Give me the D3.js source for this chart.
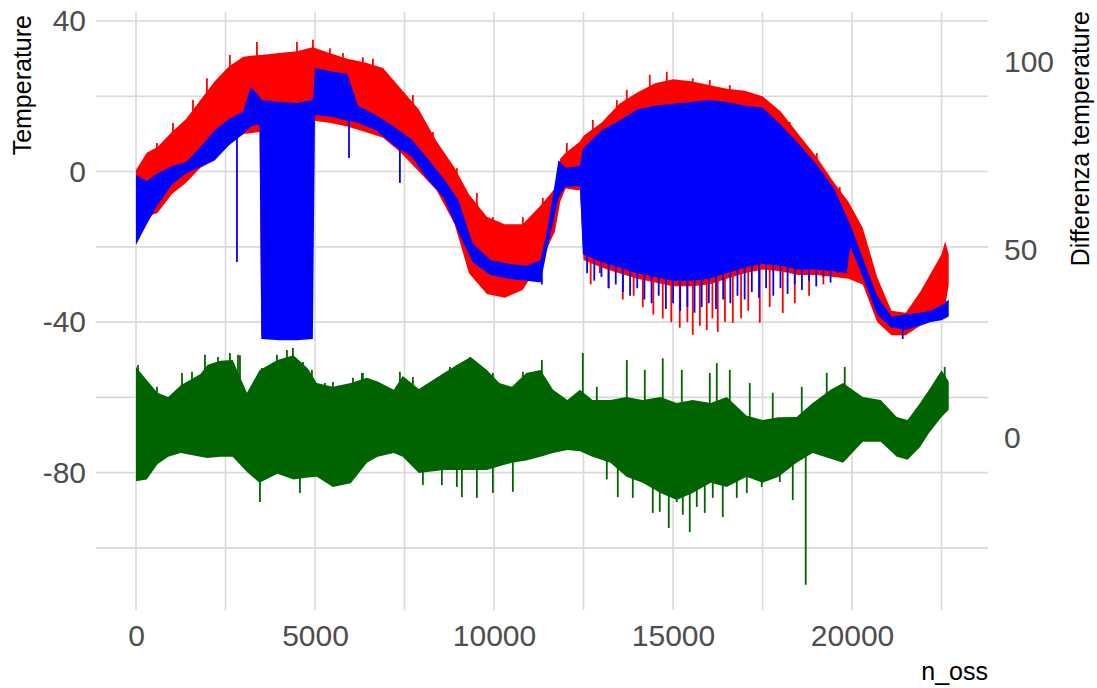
<!DOCTYPE html>
<html>
<head>
<meta charset="utf-8">
<script src="https://cdn.jsdelivr.net/npm/d3@7"></script>
<style>
  body { margin: 0; background: #fff; }
  text { font-family: "Liberation Sans", Arial, sans-serif; }
</style>
</head>
<body>
<div id="container"></div>
<script>
/* DATA (envelope of each dense series + visible spikes) */
// red series (temperature), band low/high
const redN  = [0, 300, 600, 1000, 1400, 1800, 2200, 2600, 3000, 3450, 3500, 4000, 4500, 4900, 4960, 5400, 5900, 6400, 6900, 7400, 7900, 8400, 8900, 9300, 9800, 10300, 10800, 11300, 11700, 11850, 12000, 12400, 12500, 13000, 13500, 14000, 14500, 15000, 15500, 16000, 16500, 17000, 17500, 18000, 18500, 19000, 19500, 19900, 20300, 20700, 21100, 21500, 21900, 22200, 22500, 22600, 22700];
const redHi = [0.4, 5, 6.5, 10.5, 14, 19, 24, 28, 30.5, 31, 31, 31.5, 32, 33, 33, 31.5, 30, 29, 27.5, 22, 16.5, 8, 1, -6, -12, -14, -14, -9, -4.5, 3.5, 5, 8, 9.5, 13, 18, 21, 23.5, 24.5, 24, 23, 22, 21.5, 20, 16, 10, 4, -3, -8, -15, -28, -37, -37.5, -32, -27, -22, -18.5, -22];
const redLo = [-14, -12, -11, -6, -3, 1, 3, 8, 10, 10.5, -43.5, -43.5, -43.5, -40, 13.5, 13, 12, 10.5, 9, 5, 0, -5, -14, -27, -32.5, -33.5, -31.5, -24, -16, -8, -4.5, -5, -23.5, -25.5, -27, -28.5, -29.5, -30.5, -30.5, -30, -28.5, -27, -26, -26.5, -27.5, -27.5, -28, -28.5, -30, -40, -43.5, -43.5, -41, -39, -37, -36, -30];
const redSpikeN = [586, 1033, 1591, 1982, 2624, 3378, 4495, 4942, 5416, 5779, 6338, 6617, 7175, 7734, 8292, 8962, 9521, 9967, 10805, 11364, 12034, 12759, 13429, 13708, 14350, 14825, 15551, 16026, 16585, 17339, 18260, 19014, 19656,
                   12700, 12955, 13200, 13597, 13900, 14155, 14450, 14713, 14950, 15188, 15400, 15551, 15750, 15942, 16100, 16250, 16450, 16669, 16900, 17100, 17423, 17700, 18065, 18400, 18800, 19200];
const redSpikeV = [7.6, 12.9, 19, 24.8, 31, 34.4, 34.4, 35, 32.8, 31.5, 30.4, 30, 24.3, 20.3, 10.5, 0.9, -5.7, -12.1, -12.1, -7, 7.6, 13.7, 19, 21.7, 25.7, 26.5, 24.8, 24.3, 23, 19.8, 13.2, 4.9, -4.1,
                   -30, -27, -31, -34, -33, -36, -38, -39, -40, -41.5, -40, -43.4, -41, -42.1, -39, -42.6, -40, -40.2, -39, -37, -40.2, -36, -37.6, -35, -33, -30];

// blue series (temperature)
const blueN  = [0, 300, 600, 1000, 1400, 1800, 2200, 2600, 3000, 3200, 3450, 3500, 4000, 4500, 4940, 5000, 5500, 5900, 6200, 6700, 7200, 7700, 8100, 8600, 9000, 9400, 9900, 10400, 10900, 11300, 11500, 11800, 12000, 12400, 12480, 13000, 13500, 14000, 14500, 15000, 15500, 16000, 16500, 17000, 17500, 18000, 18500, 19000, 19500, 19850, 19950, 20300, 20700, 21100, 21500, 21900, 22200, 22500, 22700];
const blueHi = [-0.9, -2.5, -0.5, 1.5, 2.5, 6.5, 11, 14, 16, 22.5, 20, 19, 18.5, 18.2, 19, 27.5, 26.5, 26, 17.5, 15, 12, 8.5, 4, -2, -7.5, -19, -23.5, -24.5, -25, -23.5, -15, 3, 1, 1.5, 6, 11, 13.5, 16.5, 17.5, 18, 18.5, 19, 18.5, 17.5, 17, 12.5, 7.5, 2, -4.5, -12, -14, -23, -33, -38.5, -38, -37.5, -37, -35.5, -34];
const blueLo = [-19.5, -14, -9, -3.5, -0.5, 1.2, 3, 7, 10, 12, 12.5, -44.5, -44.8, -44.8, -44.5, 15, 14.5, 13.5, 13, 11, 7, 4, -1.5, -7, -16, -24, -27.5, -28.5, -29, -29.5, -20, -7, -4, -4, -22, -24, -25.5, -27, -28, -29, -29, -28.5, -27, -25.5, -24.5, -25, -26, -26, -26.5, -27, -20, -28, -38, -41.5, -42, -41, -40, -39.5, -38.5];
const blueSpikeN = [2820, 5950, 7371, 11336, 21415,
                    12600, 12800, 13000, 13200, 13400, 13600, 13800, 14000, 14200, 14400, 14600, 14800, 15000, 15200, 15400, 15600, 15800, 16000,
                    16200, 16400, 16600, 16800, 17000, 17200, 17400, 17600, 17800, 18000, 18200, 18400, 18600, 18800, 19000, 19200, 19400, 19600];
const blueSpikeV = [-24, 3.6, -3, -30, -44.5,
                    -27, -29, -28, -31, -30, -32, -33, -31, -34, -35, -33, -36.5, -35, -37, -36, -37.5, -36, -35,
                    -36.5, -34, -35, -33, -34, -32, -33.5, -31, -33, -31, -32.5, -30, -31.5, -29, -30.5, -28, -29.5, -27];

// green series (Differenza temperature, right axis)
const greenN  = [0, 300, 600, 900, 1250, 1800, 2000, 2350, 2700, 3100, 3450, 3950, 4400, 4800, 5050, 5500, 6000, 6450, 6750, 7200, 7450, 7900, 8600, 9050, 9350, 9800, 10150, 10500, 10900, 11300, 11650, 12050, 12400, 12750, 13250, 13700, 14150, 14650, 15100, 15550, 16050, 16500, 17050, 17500, 17950, 18450, 18900, 19400, 19750, 20300, 20800, 21250, 21550, 21900, 22150, 22500, 22700];
const greenHi = [18.9, 15.4, 12, 10.9, 14, 17, 19.5, 20.5, 20.7, 12, 18, 20.7, 22, 18.5, 14.6, 13.6, 14.6, 16, 15, 12.8, 16.5, 13, 17.3, 19.9, 21.5, 18.1, 14.6, 13.6, 17.3, 18.1, 12.8, 10.1, 12.8, 10.1, 10.1, 10.9, 10.1, 10.9, 9.3, 10.1, 9.3, 10.9, 6, 4.8, 5.5, 5.6, 9.3, 12.8, 14.6, 10.9, 10.1, 5.6, 4.8, 9.3, 12.8, 18, 15];
const greenLo = [-11.5, -11, -7, -5, -4, -5, -5.3, -5, -5, -9, -11.9, -9.5, -11, -10.5, -10.3, -13, -12, -6.6, -5, -4, -5, -9.3, -8.5, -8.5, -8.5, -8.5, -7.5, -6.6, -6, -5, -4, -3.2, -3.5, -5, -6.6, -10.3, -11.9, -14.6, -16.5, -14.6, -11.9, -13, -10.3, -11.9, -10.3, -6.6, -4, -5.5, -6.6, -1, -1, -5, -5.8, -2.4, 1.3, 5.6, 7.5];
const greenSpikeN = [2624, 2904, 4383, 9325, 11336, 12480, 13708, 14713, 16222, 16585, 17143, 17785, 18595, 19293, 19796, 22587,
                     56, 586, 1284, 1564, 1926, 2289, 2848, 3518, 3937, 4216, 4663, 4914, 5277, 5500, 6059, 6310, 6338, 7371, 7734, 8767, 8962, 9465, 9967, 10805, 11085, 12871, 14211, 15244, 16026,
                     3462, 4579, 8544, 9102, 9521, 9967, 10526, 13457, 13876, 14434, 14881, 15272, 15467, 15886, 16389, 16780, 18344, 18706,
                     8013, 8962, 13150, 14629, 15104, 15663, 16110, 17060, 17478, 17981];
const greenSpikeV = [22.6, 22, 23.9, 21.5, 20.7, 22.6, 20.7, 21.2, 19.9, 18.1, 14.6, 12, 13.6, 17.3, 18.9, 18.9,
                     19.4, 13.6, 17.3, 17.6, 22.1, 21.5, 22.1, 18.6, 22.1, 23.4, 20.2, 18.1, 14.6, 14.9, 16, 17.3, 17.3, 17.6, 16.2, 18.9, 19.4, 20.2, 17.3, 17.6, 17.3, 13.6, 18.1, 18.1, 17.3,
                     -17, -14.6, -12.5, -15.7, -15.9, -14.6, -14.3, -15.7, -15.9, -19.9, -23.9, -20.4, -25, -19.9, -21, -15.9, -16.5, -39,
                     -12.5, -13, -11, -19.6, -17, -18.3, -15.9, -14.6, -13, -11.7];

// ticks
const xMajor = [0, 5000, 10000, 15000, 20000];
const xMinor = [2500, 7500, 12500, 17500, 22500];
const yMajor = [-80, -40, 0, 40];
const yMinor = [-100, -60, -20, 20];
const rightTicks = [0, 50, 100];
const diffOffset = 70.8; // Differenza = Temperature + offset

/* LAYOUT */
const width = 1097, height = 688;
const panel = { left: 96, right: 988, top: 12, bottom: 610 };

const svg = d3.select("#container").append("svg")
  .attr("width", width).attr("height", height)
  .style("background", "#fff");

const x = d3.scaleLinear().domain([-1117, 23797]).range([panel.left, panel.right]);
const y = d3.scaleLinear().domain([-116.5, 42.4]).range([panel.bottom, panel.top]);

// gridlines (major + minor look the same here)
const grid = svg.append("g").attr("stroke", "#d9d9d9").attr("stroke-width", 1.6);
grid.selectAll(".hy").data(yMajor.concat(yMinor)).join("line")
  .attr("x1", panel.left).attr("x2", panel.right)
  .attr("y1", d => y(d)).attr("y2", d => y(d));
grid.selectAll(".vx").data(xMajor.concat(xMinor)).join("line")
  .attr("y1", panel.top).attr("y2", panel.bottom)
  .attr("x1", d => x(d)).attr("x2", d => x(d));

// helpers
function band(ns, lo, hi, shift) {
  return ns.map((n, i) => ({ n: n, lo: lo[i] - shift, hi: hi[i] - shift }));
}
function midAt(rows, n) {
  const i = Math.min(Math.max(d3.bisector(d => d.n).left(rows, n), 1), rows.length - 1);
  const a = rows[i - 1], b = rows[i];
  const t = (n - a.n) / (b.n - a.n);
  return ((a.lo + a.hi) / 2) * (1 - t) + ((b.lo + b.hi) / 2) * t;
}
const area = d3.area().x(d => x(d.n)).y0(d => y(d.lo)).y1(d => y(d.hi));

function drawSeries(rows, spikeN, spikeV, shift, color) {
  svg.append("path").datum(rows).attr("d", area).attr("fill", color);
  svg.append("g").selectAll("line")
    .data(spikeN.map((n, i) => ({ n: n, v: spikeV[i] - shift })))
    .join("line")
    .attr("x1", d => x(d.n)).attr("x2", d => x(d.n))
    .attr("y1", d => y(midAt(rows, d.n))).attr("y2", d => y(d.v))
    .attr("stroke", color).attr("stroke-width", 1.8);
}

drawSeries(band(redN, redLo, redHi, 0), redSpikeN, redSpikeV, 0, "#ff0000");
drawSeries(band(blueN, blueLo, blueHi, 0), blueSpikeN, blueSpikeV, 0, "#0000ff");
drawSeries(band(greenN, greenLo, greenHi, diffOffset), greenSpikeN, greenSpikeV, diffOffset, "#006400");

/* AXES */
function styleAxis(g) {
  g.select(".domain").remove();
  g.selectAll(".tick line").remove();
  g.selectAll("text")
    .attr("fill", "#4d4d4d")
    .style("font-size", "30px")
    .style("font-family", "'Liberation Sans', Arial, sans-serif");
}
const plain = d => String(d); // keep the ascii hyphen for negatives

svg.append("g")
  .attr("transform", `translate(${panel.left},0)`)
  .call(d3.axisLeft(y).tickValues(yMajor).tickSize(0).tickPadding(10).tickFormat(plain))
  .call(styleAxis);

svg.append("g")
  .attr("transform", `translate(0,${panel.bottom})`)
  .call(d3.axisBottom(x).tickValues(xMajor).tickSize(0).tickPadding(15).tickFormat(plain))
  .call(styleAxis);

const yRight = d3.scaleLinear().domain(y.domain().map(v => v + diffOffset)).range(y.range());
svg.append("g")
  .attr("transform", `translate(${panel.right},0)`)
  .call(d3.axisRight(yRight).tickValues(rightTicks).tickSize(0).tickPadding(16).tickFormat(plain))
  .call(styleAxis);

// titles
svg.append("text")
  .attr("transform", "translate(31,15) rotate(-90)")
  .attr("text-anchor", "end")
  .style("font-size", "25px")
  .attr("fill", "#000")
  .text("Temperature");

svg.append("text")
  .attr("transform", "translate(1089,11) rotate(-90)")
  .attr("text-anchor", "end")
  .style("font-size", "25px")
  .attr("fill", "#000")
  .text("Differenza temperature");

svg.append("text")
  .attr("x", panel.right).attr("y", 680)
  .attr("text-anchor", "end")
  .style("font-size", "25px")
  .attr("fill", "#000")
  .text("n_oss");
</script>
</body>
</html>
